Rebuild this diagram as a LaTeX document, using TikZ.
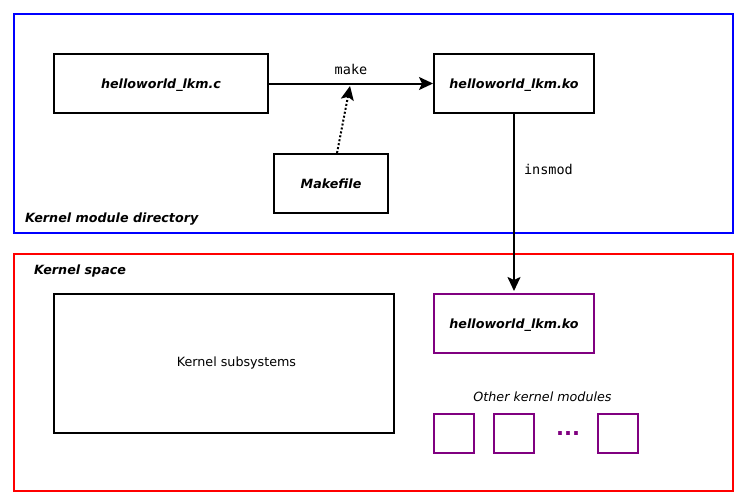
\documentclass[tikz,border=0pt]{standalone}
\usepackage{fontspec}
\setmainfont{DejaVu Sans}
\setmonofont{DejaVu Sans Mono}
\usetikzlibrary{arrows.meta,positioning}
\definecolor{modpurple}{RGB}{128,0,128}
\def\fnamefont{\fontsize{12.7}{15}\selectfont\bfseries\itshape}
\def\plainfont{\fontsize{12.7}{15}\selectfont}
\def\cmdfont{\fontsize{13.5}{16}\selectfont\ttfamily}

\begin{document}
\begin{tikzpicture}[x=1pt, y=-1pt,
		box/.style={draw=black, line width=2pt, inner sep=0pt, text height=9pt, text depth=0pt},
		fname/.style={box, font=\fnamefont},
		modbox/.style={box, draw=modpurple, minimum width=40, minimum height=39},
		frame/.style={line width=2pt},
		areatext/.style={inner sep=0pt, anchor=west, font=\fnamefont},
		cmd/.style={font=\cmdfont, inner sep=0pt},
		flow/.style={line width=2pt, -{Stealth[length=14pt, width=13pt, inset=3pt]}}]
			%%%%% START %%%%%
			\useasboundingbox (0, 0) rectangle (746, 503);
			
			\draw[frame, color=blue] (14, 14) rectangle (733, 233);
			\draw[frame, color=red] (14, 254) rectangle (733, 491);
			\node[areatext] (dirtext) at (25, 219) {Kernel module directory};
			\node[areatext] (spacetext) at (34, 271) {Kernel space};
			
			\node[fname, minimum width=214, minimum height=59] (src) at (161, 83.5) {helloworld\_lkm.c};
			\node[fname, minimum width=160, minimum height=59] (ko) at (514, 83.5) {helloworld\_lkm.ko};
			\node[fname, minimum width=114, minimum height=59] (mk) at (331, 183.5) {Makefile};
			
			\draw[flow] (src) -- node[cmd, above=8pt] (maketext) {make} (ko);
			\coordinate (maketip) at (350, 86);
			\draw[flow, dash pattern=on 2pt off 2pt] ([xshift=6pt]mk.north) -- (maketip);
			
			\node[box, minimum width=340, minimum height=139] (sub) at (224, 363.5) {};
			\node[inner sep=0pt, font=\plainfont, text height=9pt, text depth=0pt] (subtext) at ([xshift=12.5pt, yshift=2pt]sub.center) {Kernel subsystems};
			\node[fname, draw=modpurple, minimum width=160, minimum height=59] (kmod) at (514, 323.5) {helloworld\_lkm.ko};
			
			\draw[flow, shorten >=2pt] (ko) -- node[cmd, pos=0.31, right=9pt] (insmodtext) {insmod} (kmod);
			
			\node[inner sep=0pt, font=\plainfont\itshape] (othertext) at (542.5, 397) {Other kernel modules};
			\node[modbox] (m1) at (454, 433.5) {};
			\node[modbox] (m2) at (514, 433.5) {};
			\node[modbox] (m3) at (618, 433.5) {};
			\node[inner sep=0pt, text=modpurple, font=\fontsize{21}{24}\selectfont\bfseries] (dots) at (568, 434) {...};
			
			%%%%% END %%%%%
		\end{tikzpicture}
\end{document}
